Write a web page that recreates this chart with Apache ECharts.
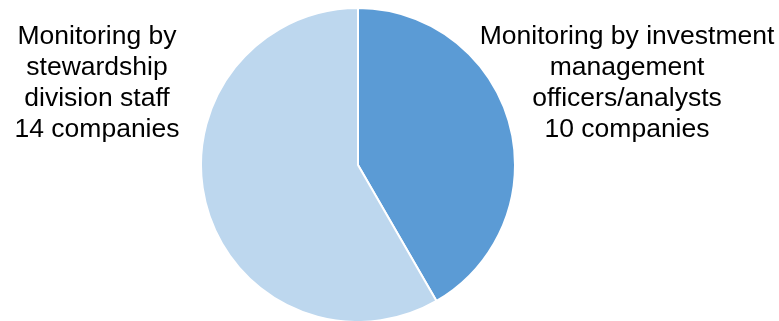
<!DOCTYPE html>
<html>
<head>
<meta charset="utf-8">
<script src="https://cdn.jsdelivr.net/npm/echarts@6/dist/echarts.min.js"></script>
<style>
  html, body { margin: 0; padding: 0; background: #fff; }
  #chart { width: 779px; height: 321px; }
</style>
</head>
<body>
<div id="chart"></div>
<script>
// data
var names = [
  "Monitoring by investment\nmanagement\nofficers/analysts",
  "Monitoring by\nstewardship\ndivision staff"
];
var counts = [10, 14];
var colors = ["#5B9BD5", "#BDD7EE"];

var myChart = echarts.init(document.getElementById("chart"));
var dataList = [];
names.forEach(function (n, i) {
  dataList.push({ name: n, value: counts[i], itemStyle: { color: colors[i] } });
});

// where the label blocks sit (left / right of the pie)
var labelPos = [
  { x: 627, y: 83 },
  { x: 97, y: 83 }
];

var option = {
  animation: false,
  series: [
    {
      type: "pie",
      center: [358, 165],
      radius: [0, 157],
      startAngle: 90,
      clockwise: true,
      data: dataList,
      itemStyle: {
        borderColor: "#fff",
        borderWidth: 2,
      },
      label: {
        show: true,
        formatter: function (p) {
          return p.name + "\n" + p.value + " companies";
        },
        color: "#000",
        fontFamily: "Liberation Sans, Arial, sans-serif",
        fontSize: 26.5,
        lineHeight: 31,
        align: "center",
        overflow: "none",
        width: 400,
      },
      labelLine: { show: false },
      labelLayout: function (params) {
        var pos = labelPos[params.dataIndex];
        return {
          x: pos.x,
          y: pos.y,
          align: "center",
          verticalAlign: "middle",
        };
      },
      emphasis: { disabled: true },
    },
  ],
};
myChart.setOption(option);
</script>
</body>
</html>
